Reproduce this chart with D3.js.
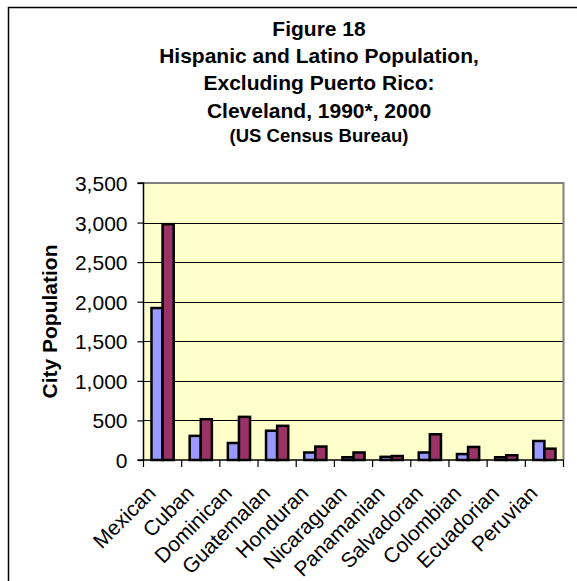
<!DOCTYPE html>
<html>
<head>
<meta charset="utf-8">
<script src="https://cdn.jsdelivr.net/npm/d3@7"></script>
<style>
  html, body { margin: 0; padding: 0; background: #fff; }
  svg text { font-family: "Liberation Sans", Arial, sans-serif; fill: #000; }
</style>
</head>
<body>
<svg id="chart" width="577" height="581"></svg>
<script>
const categories = ["Mexican", "Cuban", "Dominican", "Guatemalan", "Honduran", "Nicaraguan",
  "Panamanian", "Salvadoran", "Colombian", "Ecuadorian", "Peruvian"];
const series1990 = [1920, 305, 215, 370, 95, 35, 40, 95, 75, 35, 240];
const series2000 = [2980, 515, 545, 432, 170, 95, 50, 325, 165, 60, 143];
const seriesNames = ["1990", "2000"];
const yTicks = [0, 500, 1000, 1500, 2000, 2500, 3000, 3500];
const titleLines = ["Figure 18", "Hispanic and Latino Population,", "Excluding Puerto Rico:", "Cleveland, 1990*, 2000"];
const subtitle = "(US Census Bureau)";
const yLabel = "City Population";

const colors = ["#9999FF", "#993366"];
const svg = d3.select("#chart");

// outer frame (cut off at right/bottom)
svg.append("rect").attr("x", 8.5).attr("y", 7.5).attr("width", 700).attr("height", 700)
  .attr("fill", "#fff").attr("stroke", "#000").attr("stroke-width", 1.5);

const plot = { left: 143.5, right: 563.5, top: 183, bottom: 460 };

const x = d3.scaleBand().domain(categories).range([plot.left, plot.right]).paddingInner(0).paddingOuter(0);
const y = d3.scaleLinear().domain([0, 3500]).range([plot.bottom, plot.top]);

// plot background
svg.append("rect").attr("x", plot.left).attr("y", plot.top)
  .attr("width", plot.right - plot.left).attr("height", plot.bottom - plot.top)
  .attr("fill", "#FFFFCC");

// gridlines
svg.append("g").selectAll("line").data(yTicks.filter(t => t > 0 && t < 3500)).join("line")
  .attr("x1", plot.left).attr("x2", plot.right)
  .attr("y1", d => Math.round(y(d)) + 0.5).attr("y2", d => Math.round(y(d)) + 0.5)
  .attr("stroke", "#000").attr("stroke-width", 1);

// plot border top/right gray
svg.append("path")
  .attr("d", `M${plot.left},${plot.top} H${plot.right} V${plot.bottom}`)
  .attr("fill", "none").attr("stroke", "#808080").attr("stroke-width", 2);

// bars
const inner = d3.scaleBand().domain(seriesNames).range([0, x.bandwidth()]).paddingInner(0).paddingOuter(0.72);
const data = categories.map((c, i) => ({ c, vals: [series1990[i], series2000[i]] }));
const groups = svg.append("g").selectAll("g").data(data).join("g")
  .attr("transform", d => `translate(${x(d.c)},0)`);
groups.selectAll("rect").data(d => d.vals.map((v, j) => ({ v, j }))).join("rect")
  .attr("x", d => inner(seriesNames[d.j]))
  .attr("width", inner.bandwidth())
  .attr("y", d => y(d.v))
  .attr("height", d => y(0) - y(d.v))
  .attr("fill", d => colors[d.j])
  .attr("stroke", "#000").attr("stroke-width", 2.5);

// y axis
const yAxis = d3.axisLeft(y).tickValues(yTicks).tickFormat(d3.format(",")).tickSize(6).tickPadding(10);
const yg = svg.append("g").attr("transform", `translate(${plot.left},0)`).call(yAxis);
yg.select(".domain").attr("stroke", "#000").attr("stroke-width", 1.5).attr("d", `M-6,${plot.top}H0V${plot.bottom}H-6`);
yg.selectAll(".tick line").attr("stroke", "#000").attr("stroke-width", 1.2);
yg.selectAll(".tick text").style("font-size", "21px").attr("dy", "0.36em")
  .style("font-family", '"Liberation Sans", Arial, sans-serif');

// x axis
const xAxis = d3.axisBottom(x).tickSize(0).tickFormat("");
const xg = svg.append("g").attr("transform", `translate(0,${plot.bottom})`).call(xAxis);
xg.select(".domain").attr("stroke", "#000").attr("stroke-width", 1.5).attr("d", `M${plot.left},0H${plot.right}`);
const bounds = categories.map(c => x(c)).concat([plot.right]);
xg.selectAll("line.bound").data(bounds).join("line").attr("class", "bound")
  .attr("x1", d => d).attr("x2", d => d).attr("y1", 0).attr("y2", 7)
  .attr("stroke", "#000").attr("stroke-width", 1.2);
// category labels
svg.append("g").selectAll("text").data(categories).join("text")
  .attr("transform", d => `translate(${x(d) + x.bandwidth() / 2 - 16},${plot.bottom + 24}) rotate(-45)`)
  .attr("text-anchor", "end")
  .attr("dy", "0.7em")
  .style("font-size", "21px")
  .text(d => d);

// y label
svg.append("text")
  .attr("transform", `translate(57,${(plot.top + plot.bottom) / 2}) rotate(-90)`)
  .attr("text-anchor", "middle")
  .style("font-size", "21px").style("font-weight", "bold")
  .text(yLabel);

// titles
const titleX = 319;
const baselines = [36, 63, 90, 118];
svg.append("g").selectAll("text").data(titleLines).join("text")
  .attr("x", titleX).attr("y", (d, i) => baselines[i])
  .attr("text-anchor", "middle")
  .style("font-size", "21px").style("font-weight", "bold")
  .text(d => d);
svg.append("text").attr("x", titleX).attr("y", 142)
  .attr("text-anchor", "middle")
  .style("font-size", "18.5px").style("font-weight", "bold")
  .text(subtitle);
</script>
</body>
</html>
